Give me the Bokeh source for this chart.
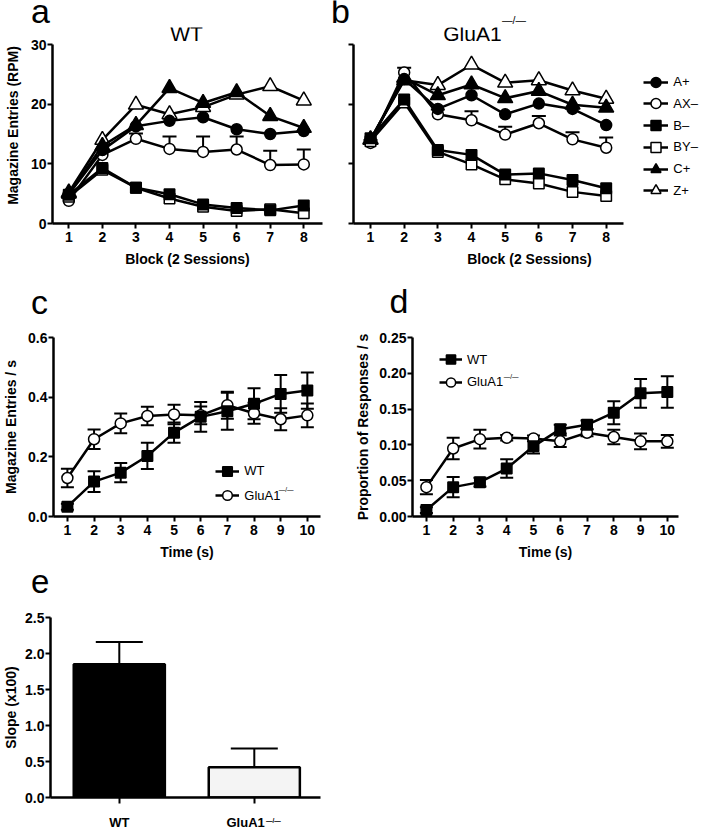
from bokeh.plotting import figure
from bokeh.models import (Range1d, FixedTicker, Label, Legend, LegendItem,
                          Whisker, TeeHead, ColumnDataSource, PrintfTickFormatter)
from bokeh.layouts import column, row
from bokeh.embed import file_html
from bokeh.resources import INLINE

FONT = "Liberation Sans"

# ---------------- data ----------------
blocks = [1, 2, 3, 4, 5, 6, 7, 8]
cue_names = ["A+", "AX–", "B–", "BY–", "C+", "Z+"]

# panel a : WT
wt_A = [4.9, 12.3, 16.3, 17.2, 17.8, 15.8, 15.0, 15.5]
wt_AX = [3.8, 11.5, 14.2, 12.5, 12.0, 12.4, 9.8, 9.9]
wt_AX_err = [0.5, 0.8, 0.9, 2.1, 2.6, 2.2, 2.4, 2.5]
wt_B = [4.8, 9.3, 6.0, 4.9, 3.2, 2.6, 2.2, 3.0]
wt_BY = [4.5, 9.0, 6.0, 4.2, 2.8, 2.1, 2.4, 1.7]
wt_C = [5.0, 13.0, 16.5, 22.7, 20.2, 22.0, 18.0, 16.0]
wt_Z = [5.2, 14.0, 19.9, 18.3, 19.5, 21.6, 23.0, 20.6]

# panel b : GluA1-/-
ko_A = [14.0, 24.2, 19.2, 21.5, 18.3, 20.1, 19.2, 16.5]
ko_AX = [13.5, 25.3, 18.3, 17.3, 14.9, 16.8, 14.1, 12.7]
ko_AX_err = [0.5, 0.8, 0.8, 1.5, 1.3, 1.2, 1.2, 1.7]
ko_B = [14.3, 20.8, 12.3, 11.5, 8.2, 8.4, 7.3, 5.9]
ko_BY = [13.8, 20.3, 12.0, 9.9, 7.4, 6.7, 5.3, 4.6]
ko_C = [14.0, 24.4, 21.5, 23.3, 21.0, 22.2, 19.9, 19.4]
ko_Z = [14.1, 24.0, 23.2, 26.6, 23.6, 24.0, 22.3, 20.9]

# panels c, d
time_s = [1, 2, 3, 4, 5, 6, 7, 8, 9, 10]
c_wt = [0.033, 0.117, 0.147, 0.203, 0.281, 0.334, 0.353, 0.378, 0.411, 0.422]
c_wt_err = [0.010, 0.035, 0.032, 0.044, 0.034, 0.050, 0.062, 0.052, 0.063, 0.061]
c_ko = [0.129, 0.259, 0.312, 0.337, 0.342, 0.339, 0.373, 0.346, 0.326, 0.339]
c_ko_err = [0.031, 0.033, 0.033, 0.031, 0.033, 0.030, 0.045, 0.035, 0.037, 0.040]

d_wt = [0.009, 0.041, 0.048, 0.067, 0.098, 0.122, 0.128, 0.145, 0.172, 0.174]
d_wt_err = [0.004, 0.014, 0.006, 0.013, 0.010, 0.006, 0.006, 0.016, 0.020, 0.022]
d_ko = [0.041, 0.095, 0.108, 0.110, 0.109, 0.105, 0.117, 0.111, 0.105, 0.105]
d_ko_err = [0.010, 0.015, 0.013, 0.004, 0.004, 0.008, 0.005, 0.010, 0.011, 0.009]

# panel e
groups = ["WT", "GluA1"]
slope = [1.85, 0.42]
slope_err = [0.31, 0.26]

a_yticks = [0, 10, 20, 30]
c_yticks = [0.0, 0.2, 0.4, 0.6]
d_yticks = [0.0, 0.05, 0.10, 0.15, 0.20, 0.25]
e_yticks = [0.0, 0.5, 1.0, 1.5, 2.0, 2.5]

SUP = "\u2014/\u2014"
SHIFT = 0.48   # empirical: Label baseline lands ~0.48*size below its anchor


# ------------- helpers (page pixel geometry) -------------
def style_axis(ax):
    ax.axis_line_width = 2.5
    ax.axis_line_color = "black"
    ax.major_tick_line_width = 2
    ax.major_tick_line_color = "black"
    ax.major_tick_out = 5
    ax.major_tick_in = 0
    ax.minor_tick_line_width = 2
    ax.minor_tick_line_color = None
    ax.minor_tick_in = 0
    ax.major_label_text_font = FONT
    ax.major_label_text_font_style = "bold"
    ax.major_label_text_font_size = "14px"
    ax.major_label_text_color = "black"
    ax.axis_label_text_font = FONT
    ax.axis_label_text_font_style = "bold"
    ax.axis_label_text_font_size = "14px"
    ax.axis_label_text_color = "black"


def panel(fx, fy, fw, fh, frame, xcal, ycal):
    L, T, R, B = frame
    xv, xp, xs = xcal
    yv, yp, ys = ycal
    xr = Range1d(xv + (L - xp) / xs, xv + (R - xp) / xs)
    yr = Range1d(yv + (yp - B) / ys, yv + (yp - T) / ys)
    p = figure(width=fw, height=fh, output_backend="svg", toolbar_location=None,
               x_range=xr, y_range=yr,
               min_border_left=int(L - fx), min_border_right=int(fx + fw - R),
               min_border_top=int(T - fy), min_border_bottom=int(fy + fh - B))
    p.outline_line_color = None
    p.xgrid.visible = False
    p.ygrid.visible = False
    p.background_fill_color = "white"
    p.border_fill_color = "white"
    style_axis(p.xaxis[0])
    style_axis(p.yaxis[0])
    p.xaxis[0].major_label_standoff = 3
    p.xaxis[0].axis_label_standoff = 6
    p.yaxis[0].major_label_standoff = 1

    def mx(px):
        return xv + (px - xp) / xs

    def my(py):
        return yv + (yp - py) / ys
    return p, mx, my


def strip(fy, fw, fh):
    p = figure(width=fw, height=fh, output_backend="svg", toolbar_location=None,
               x_range=Range1d(0, fw), y_range=Range1d(fy + fh, fy),
               x_axis_location=None, y_axis_location=None,
               min_border_left=0, min_border_right=0, min_border_top=0, min_border_bottom=0)
    p.outline_line_color = None
    p.background_fill_color = "white"
    p.border_fill_color = "white"
    for g in p.grid:
        g.visible = False

    def ident(v):
        return v
    return p, ident, ident


def label(p, mx, my, px, py, text, size_px, align="left", style="normal"):
    p.add_layout(Label(x=mx(px), y=my(py - SHIFT * size_px), text=text, text_font=FONT,
                       text_font_size=f"{size_px}px", text_align=align,
                       text_baseline="alphabetic",
                       text_font_style=style, text_color="black"))


def add_series(p, x, y, marker, fill, size):
    src = ColumnDataSource(dict(x=x, y=y))
    ln = p.line("x", "y", source=src, line_color="black", line_width=2.5)
    sc = p.scatter("x", "y", source=src, marker=marker, size=size, fill_color=fill,
                   line_color="black", line_width=1.5)
    return [ln, sc]


def add_err(p, x, y, err, up_only, cap):
    upper = [a + b for a, b in zip(y, err)]
    lower = list(y) if up_only else [a - b for a, b in zip(y, err)]
    src = ColumnDataSource(dict(x=x, upper=upper, lower=lower))
    w = Whisker(source=src, base="x", upper="upper", lower="lower", dimension="height",
                line_color="black", line_width=2, level="underlay",
                upper_head=TeeHead(size=cap, line_width=2, line_color="black"),
                lower_head=None if up_only else TeeHead(size=cap, line_width=2, line_color="black"))
    p.add_layout(w)


def legend_rows(p, entries, frame_left, frame_bottom, left, first_center, pitch, gw):
    gh = 30
    for i, (lab, rends) in enumerate(entries):
        cy = first_center + i * pitch
        p.add_layout(Legend(items=[LegendItem(label=lab, renderers=rends)],
                            location=(left - frame_left, frame_bottom - (cy + gh / 2)),
                            glyph_width=gw, glyph_height=gh, label_height=gh, spacing=0,
                            padding=0, margin=0, label_standoff=5,
                            label_text_font=FONT, label_text_font_size="13px",
                            label_text_color="black",
                            background_fill_alpha=0, border_line_color=None))


styles = {
    "A+": ("circle", "black", 11),
    "AX–": ("circle", "white", 11),
    "B–": ("square", "black", 10.5),
    "BY–": ("square", "white", 10.5),
    "C+": ("triangle", "black", 15),
    "Z+": ("triangle", "white", 15),
}
draw_order = ["Z+", "C+", "AX–", "A+", "BY–", "B–"]


def block_panel(p, data, ax_err):
    add_err(p, blocks, data["AX–"], ax_err, True, 14)
    rend = {}
    for name in draw_order:
        m, f, s = styles[name]
        rend[name] = add_series(p, blocks, data[name], m, f, s)
    p.xaxis[0].ticker = FixedTicker(ticks=blocks)
    p.xaxis[0].axis_label = "Block (2 Sessions)"
    return rend


# vertical bands of the page (px): header strips hold the panel letters
Y_H1, Y_A, Y_H2, Y_C, Y_H3, Y_E, Y_F, Y_END = 0, 27, 272, 328, 563, 607, 812, 832

# ---------------- header strip 1 : letters a, b ----------------
h1, hx1, hy1 = strip(Y_H1, 705, Y_A - Y_H1)
label(h1, hx1, hy1, 30.5, 26.7, "a", 34)
label(h1, hx1, hy1, 330.5, 26.8, "b", 34)
label(h1, hx1, hy1, 501.5, 24.5, SUP, 10.5)

# ---------------- panel a ----------------
pa, ax_, ay_ = panel(0, Y_A, 330, Y_H2 - Y_A, (52, 27, 322, 223), (1, 68.3, 33.57), (0, 223, 179 / 30))
block_panel(pa, {"A+": wt_A, "AX–": wt_AX, "B–": wt_B, "BY–": wt_BY, "C+": wt_C, "Z+": wt_Z}, wt_AX_err)
pa.yaxis[0].ticker = FixedTicker(ticks=a_yticks)
pa.yaxis[0].bounds = (a_yticks[0], a_yticks[-1])
pa.yaxis[0].axis_label = "Magazine Entries (RPM)"
pa.yaxis[0].axis_label_standoff = 7
label(pa, ax_, ay_, 186, 42.7, "WT", 21, align="center")

# ---------------- panel b ----------------
pb, bx_, by_ = panel(330, Y_A, 375, Y_H2 - Y_A, (353, 27, 705, 223), (1, 370, 33.67), (0, 223, 179 / 30))
rb = block_panel(pb, {"A+": ko_A, "AX–": ko_AX, "B–": ko_B, "BY–": ko_BY, "C+": ko_C, "Z+": ko_Z}, ko_AX_err)
pb.xaxis[0].bounds = (bx_(353), bx_(623))
pb.yaxis[0].ticker = FixedTicker(ticks=[], minor_ticks=a_yticks)
pb.yaxis[0].bounds = (a_yticks[0], a_yticks[-1])
pb.yaxis[0].minor_tick_line_color = "black"
pb.yaxis[0].minor_tick_out = 5
legend_rows(pb, [(n, rb[n]) for n in cue_names], 353, 223, 643.3, 81.7, 21.7, 25)
label(pb, bx_, by_, 442.7, 42.7, "GluA1", 21)

# ---------------- header strip 2 : letters c, d ----------------
h2, hx2, hy2 = strip(Y_H2, 705, Y_C - Y_H2)
label(h2, hx2, hy2, 30.5, 318.3, "c", 34)
label(h2, hx2, hy2, 389, 316.7, "d", 34)

# ---------------- panel c ----------------
pc, cx_, cy_ = panel(0, Y_C, 352, Y_H3 - Y_C, (51, 337, 320, 516), (1, 65, 26.86), (0, 516, 179 / 0.6))
add_err(pc, time_s, c_ko, c_ko_err, False, 13)
add_err(pc, time_s, c_wt, c_wt_err, False, 13)
rc_ko = add_series(pc, time_s, c_ko, "circle", "white", 11)
rc_wt = add_series(pc, time_s, c_wt, "square", "black", 10.5)
pc.xaxis[0].ticker = FixedTicker(ticks=time_s)
pc.yaxis[0].ticker = FixedTicker(ticks=c_yticks)
pc.yaxis[0].formatter = PrintfTickFormatter(format="%.1f")
pc.xaxis[0].axis_label = "Time (s)"
pc.yaxis[0].axis_label = "Magazine Entries / s"
pc.yaxis[0].axis_label_standoff = 6
legend_rows(pc, [("WT", rc_wt), ("GluA1", rc_ko)], 51, 516, 213.3, 470.7, 24.3, 24)
label(pc, cx_, cy_, 278, 492, SUP, 6.5)

# ---------------- panel d ----------------
pd_, dx_, dy_ = panel(352, Y_C, 353, Y_H3 - Y_C, (410, 337, 678, 516), (1, 424, 26.97), (0, 516, 179 / 0.25))
add_err(pd_, time_s, d_ko, d_ko_err, False, 13)
add_err(pd_, time_s, d_wt, d_wt_err, False, 13)
rd_ko = add_series(pd_, time_s, d_ko, "circle", "white", 11)
rd_wt = add_series(pd_, time_s, d_wt, "square", "black", 10.5)
pd_.xaxis[0].ticker = FixedTicker(ticks=time_s)
pd_.yaxis[0].ticker = FixedTicker(ticks=d_yticks)
pd_.yaxis[0].formatter = PrintfTickFormatter(format="%.2f")
pd_.xaxis[0].axis_label = "Time (s)"
pd_.yaxis[0].axis_label = "Proportion of Responses / s"
pd_.yaxis[0].axis_label_standoff = 5
legend_rows(pd_, [("WT", rd_wt), ("GluA1", rd_ko)], 410, 516, 437, 359.3, 22.4, 23)
label(pd_, dx_, dy_, 502, 378.7, SUP, 6.5)

# ---------------- header strip 3 : letter e ----------------
h3, hx3, hy3 = strip(Y_H3, 705, Y_E - Y_H3)
label(h3, hx3, hy3, 30.5, 596.7, "e", 33)

# ---------------- panel e ----------------
pe, ex_, ey_ = panel(0, Y_E, 352, Y_F - Y_E, (50, 617, 320, 797), (0, 118.8, 135), (0, 797, 72))
xpos = list(range(len(groups)))
pe.vbar(x=xpos, top=slope, width=0.675, fill_color=["black", "#f4f4f4"],
        line_color="black", line_width=2.5)
add_err(pe, xpos, slope, slope_err, True, 47)
pe.xaxis[0].ticker = FixedTicker(ticks=[], minor_ticks=xpos)
pe.xaxis[0].minor_tick_line_color = "black"
pe.xaxis[0].minor_tick_out = 6
pe.yaxis[0].ticker = FixedTicker(ticks=e_yticks)
pe.yaxis[0].formatter = PrintfTickFormatter(format="%.1f")
pe.yaxis[0].axis_label = "Slope (x100)"
pe.yaxis[0].axis_label_standoff = 3

# ---------------- footer strip : group names ----------------
f1, fx1, fy1 = strip(Y_F, 352, Y_END - Y_F)
label(f1, fx1, fy1, 118.8, 828.3, groups[0], 13, align="center", style="bold")
label(f1, fx1, fy1, 226.0, 828.3, groups[1], 13, style="bold")
label(f1, fx1, fy1, 265.5, 823.5, SUP, 6.5, style="bold")

# every plot sits inside a row so the column does not align plot frames
layout = column(row(h1), row(pa, pb), row(h2), row(pc, pd_), row(h3), row(pe), row(f1))

open("out.html", "w").write(file_html(layout, INLINE))
